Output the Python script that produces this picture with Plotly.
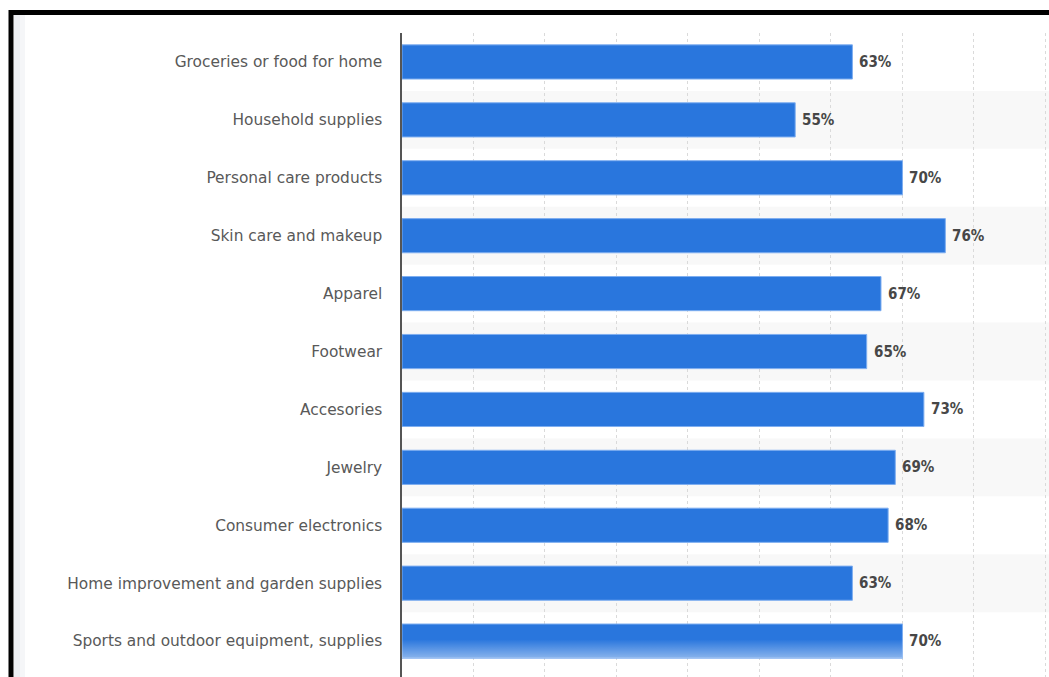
import plotly.graph_objects as go

categories = [
    "Groceries or food for home",
    "Household supplies",
    "Personal care products",
    "Skin care and makeup",
    "Apparel",
    "Footwear",
    "Accesories",
    "Jewelry",
    "Consumer electronics",
    "Home improvement and garden supplies",
    "Sports and outdoor equipment, supplies",
]
shares = [63, 55, 70, 76, 67, 65, 73, 69, 68, 63, 70]

W, H = 1049, 677
LEFT, TOP = 402, 33
X_MAX = 90.5
Y_RANGE = [10.62, -0.5]
BAR_W = 0.59

positions = list(range(len(categories)))

fig = go.Figure()

fig.add_trace(go.Bar(
    x=shares,
    y=positions,
    orientation="h",
    width=BAR_W,
    marker=dict(color="#2976dd", line=dict(color="#7eaef0", width=1)),
    hoverinfo="skip",
))

# soft fade on the lower half of the last bar
last = positions[-1]
y_top, y_bot = last - BAR_W / 2, last + BAR_W / 2
fig.add_trace(go.Scatter(
    x=[0, shares[-1], shares[-1], 0, 0],
    y=[y_top, y_top, y_bot, y_bot, y_top],
    mode="lines",
    line=dict(width=0),
    fill="toself",
    fillgradient=dict(
        type="vertical",
        start=y_top,
        stop=y_bot,
        colorscale=[[0, "rgba(255,255,255,0)"], [0.45, "rgba(255,255,255,0)"],
                    [1, "rgba(255,255,255,0.45)"]],
    ),
    hoverinfo="skip",
    showlegend=False,
))

# value labels just past each bar end
annotations = [
    dict(x=v, y=i, xref="x", yref="y", text=f"{v}%", showarrow=False,
         xanchor="left", yanchor="middle", xshift=5,
         font=dict(family="DejaVu Sans Condensed", size=15, color="#474747", weight=600))
    for i, v in zip(positions, shares)
]

shapes = []
# alternating row bands
for i in positions:
    if i % 2 == 1:
        shapes.append(dict(
            type="rect", xref="x domain", yref="y",
            x0=0, x1=1, y0=i - 0.5, y1=i + 0.5,
            fillcolor="#f8f8f8", line=dict(width=0), layer="below",
        ))

plot_w = W - LEFT
plot_h = H - TOP


def px_x(p):
    return (p - LEFT) / plot_w


def px_y(p):
    return (H - p) / plot_h


# page shadow strip and black frame
shapes.append(dict(type="rect", xref="paper", yref="paper",
                   x0=px_x(14), x1=px_x(20), y0=px_y(700), y1=px_y(14),
                   fillcolor="#eceef2", line=dict(width=0), layer="above"))
shapes.append(dict(type="rect", xref="paper", yref="paper",
                   x0=px_x(20), x1=px_x(25), y0=px_y(700), y1=px_y(14),
                   fillcolor="#f5f6f8", line=dict(width=0), layer="above"))
shapes.append(dict(type="rect", xref="paper", yref="paper",
                   x0=px_x(11), x1=px_x(1100), y0=px_y(720), y1=px_y(12.5),
                   fillcolor="rgba(0,0,0,0)", line=dict(color="black", width=5),
                   layer="above"))

fig.update_layout(
    width=W, height=H,
    margin=dict(l=LEFT, r=0, t=TOP, b=0, pad=0),
    paper_bgcolor="white",
    plot_bgcolor="white",
    showlegend=False,
    shapes=shapes,
    annotations=annotations,
    hovermode=False,
    xaxis=dict(
        range=[0, X_MAX],
        dtick=10,
        showgrid=True,
        gridcolor="#dadada",
        griddash="dot",
        gridwidth=1,
        zeroline=False,
        showticklabels=False,
        ticks="",
        fixedrange=True,
    ),
    yaxis=dict(
        range=Y_RANGE,
        tickvals=positions,
        ticktext=categories,
        showgrid=False,
        zeroline=False,
        showline=True,
        linecolor="#555555",
        linewidth=1.5,
        ticks="",
        ticklabelstandoff=15,
        tickfont=dict(family="DejaVu Sans", size=15.4, color="#595959"),
        fixedrange=True,
    ),
)

fig.write_html("out.html")
